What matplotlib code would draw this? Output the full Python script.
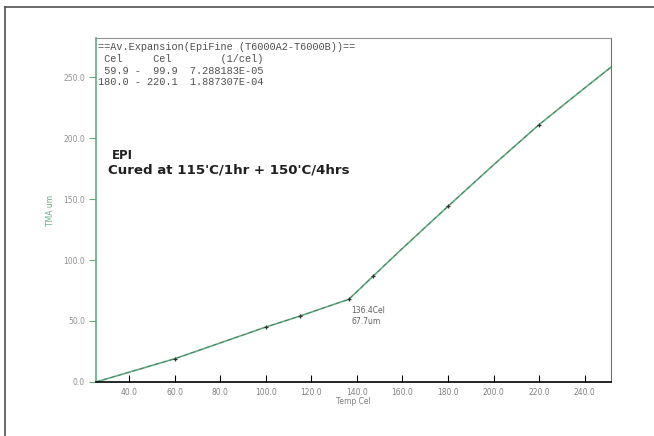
"""
TMA expansion curve, EpiFine sample
"""
import matplotlib
matplotlib.use('Agg')
import matplotlib.pyplot as plt
from matplotlib.lines import Line2D
from matplotlib.ticker import FormatStrFormatter

# curve (Temp Cel, TMA um)
temp = [25.5, 40, 60, 80, 100, 115, 125, 136.4, 140, 147,
        160, 180, 200, 220, 240, 251.5]
tma = [0.0, 8.0, 19.0, 32.0, 45.0, 54.0, 60.5, 67.7, 74.0, 86.5,
       109.5, 144.0, 178.0, 211.0, 241.0, 258.0]
# measuring marks
mark_t = [60, 100, 115, 136.4, 147, 180, 220]
mark_v = [19.0, 45.0, 54.0, 67.7, 86.5, 144.0, 211.0]

x_ticks = [40, 60, 80, 100, 120, 140, 160, 180, 200, 220, 240]
y_ticks = [0, 50, 100, 150, 200, 250]

header = [
    "==Av.Expansion(EpiFine (T6000A2-T6000B))==",
    " Cel     Cel        (1/cel)",
    " 59.9 -  99.9  7.288183E-05",
    "180.0 - 220.1  1.887307E-04",
]

green = '#5fae80'
grey = '#808080'

fig = plt.figure(figsize=(6.54, 4.36), dpi=100)
ax = fig.add_axes([0.1468, 0.1239, 0.7872, 0.7889])

ax.plot(temp, tma, color=green, lw=1.2)
ax.plot(temp, tma, color='#404040', lw=0.5, ls=(0, (6, 5)), alpha=0.6)
ax.plot(mark_t, mark_v, ls='none', marker='+', ms=3.5, mew=0.9, color='#303030')

ax.set_xlim(25.5, 251.5)
ax.set_ylim(0, 282)
ax.set_xticks(x_ticks)
ax.set_yticks(y_ticks)
ax.xaxis.set_major_formatter(FormatStrFormatter('%.1f'))
ax.yaxis.set_major_formatter(FormatStrFormatter('%.1f'))

ax.tick_params(axis='x', direction='in', length=5, width=0.8, color='black',
               labelsize=5.5, labelcolor=grey, pad=4)
ax.tick_params(axis='y', direction='out', length=5, width=0.8, color=green,
               labelsize=5.5, labelcolor='#909090', pad=3)

ax.spines['left'].set_color(green)
ax.spines['left'].set_linewidth(1.2)
ax.spines['bottom'].set_color('black')
ax.spines['bottom'].set_linewidth(1.2)
ax.spines['top'].set_color('#909090')
ax.spines['right'].set_color('#707070')

ax.set_xlabel('Temp Cel', fontsize=5.5, color=grey, labelpad=0)
ax.set_ylabel('TMA um', fontsize=5.5, color=green, labelpad=6)

# header block in mono font
for i, line in enumerate(header):
    ax.text(0.003, 0.988 - i * 0.034, line, transform=ax.transAxes,
            family='Liberation Mono', fontsize=7.4, color='#505050',
            va='top', ha='left')

ax.text(0.03, 0.648, 'EPI', transform=ax.transAxes, fontsize=8.5,
        fontweight='bold', color='#202020')
ax.text(0.023, 0.605, "Cured at 115'C/1hr + 150'C/4hrs", transform=ax.transAxes,
        fontsize=9.6, fontweight='bold', color='#202020')

ax.annotate('136.4Cel\n67.7um', xy=(136.4, 67.7), xytext=(2, -5),
            textcoords='offset points', fontsize=5.5, color='#606060',
            va='top', ha='left', linespacing=1.2)

# outer frame of the page
fig.add_artist(Line2D([5 / 654, 5 / 654], [0, 1 - 7 / 436],
                      transform=fig.transFigure, color='#505050', lw=1.2))
fig.add_artist(Line2D([5 / 654, 1], [1 - 7 / 436, 1 - 7 / 436],
                      transform=fig.transFigure, color='#505050', lw=1.2))

fig.savefig('out.png', dpi=100)
